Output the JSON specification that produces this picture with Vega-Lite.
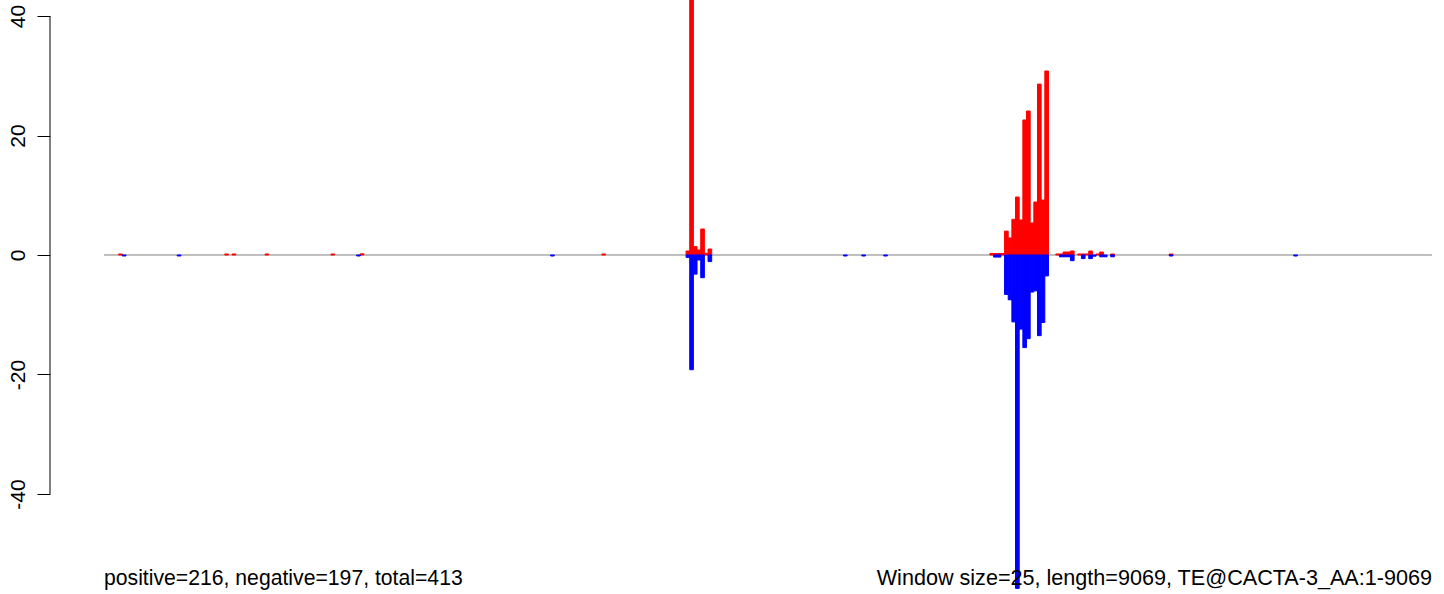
{
  "$schema": "https://vega.github.io/schema/vega-lite/v6.json",
  "width": 1394,
  "height": 594,
  "padding": {"left": 50, "top": 0, "right": 0, "bottom": 0},
  "autosize": {"type": "none"},
  "background": "white",
  "config": {"view": {"stroke": null}, "font": "Liberation Sans"},
  "datasets": {
    "bins": [
      {"start": 100, "end": 125, "strand": "positive", "value": 0.17},
      {"start": 825, "end": 850, "strand": "positive", "value": 0.17},
      {"start": 875, "end": 900, "strand": "positive", "value": 0.17},
      {"start": 1100, "end": 1125, "strand": "positive", "value": 0.17},
      {"start": 1550, "end": 1575, "strand": "positive", "value": 0.17},
      {"start": 1750, "end": 1775, "strand": "positive", "value": 0.2},
      {"start": 3400, "end": 3425, "strand": "positive", "value": 0.17},
      {"start": 3975, "end": 4000, "strand": "positive", "value": 0.67},
      {"start": 4000, "end": 4025, "strand": "positive", "value": 44},
      {"start": 4025, "end": 4050, "strand": "positive", "value": 1.4},
      {"start": 4050, "end": 4075, "strand": "positive", "value": 0.84},
      {"start": 4075, "end": 4100, "strand": "positive", "value": 4.35},
      {"start": 4100, "end": 4125, "strand": "positive", "value": 0.28},
      {"start": 4125, "end": 4150, "strand": "positive", "value": 1.0},
      {"start": 6050, "end": 6075, "strand": "positive", "value": 0.25},
      {"start": 6075, "end": 6100, "strand": "positive", "value": 0.25},
      {"start": 6100, "end": 6125, "strand": "positive", "value": 0.25},
      {"start": 6125, "end": 6150, "strand": "positive", "value": 0.25},
      {"start": 6150, "end": 6175, "strand": "positive", "value": 4.0},
      {"start": 6175, "end": 6200, "strand": "positive", "value": 2.85},
      {"start": 6200, "end": 6225, "strand": "positive", "value": 5.97},
      {"start": 6225, "end": 6250, "strand": "positive", "value": 9.7},
      {"start": 6250, "end": 6275, "strand": "positive", "value": 5.86},
      {"start": 6275, "end": 6300, "strand": "positive", "value": 22.6},
      {"start": 6300, "end": 6325, "strand": "positive", "value": 24.1},
      {"start": 6325, "end": 6350, "strand": "positive", "value": 5.36},
      {"start": 6350, "end": 6375, "strand": "positive", "value": 8.87},
      {"start": 6375, "end": 6400, "strand": "positive", "value": 28.6},
      {"start": 6400, "end": 6425, "strand": "positive", "value": 9.2},
      {"start": 6425, "end": 6450, "strand": "positive", "value": 30.8},
      {"start": 6500, "end": 6525, "strand": "positive", "value": 0.17},
      {"start": 6525, "end": 6550, "strand": "positive", "value": 0.17},
      {"start": 6550, "end": 6575, "strand": "positive", "value": 0.5},
      {"start": 6575, "end": 6600, "strand": "positive", "value": 0.5},
      {"start": 6600, "end": 6625, "strand": "positive", "value": 0.67},
      {"start": 6650, "end": 6675, "strand": "positive", "value": 0.17},
      {"start": 6675, "end": 6700, "strand": "positive", "value": 0.17},
      {"start": 6700, "end": 6725, "strand": "positive", "value": 0.17},
      {"start": 6725, "end": 6750, "strand": "positive", "value": 0.67},
      {"start": 6775, "end": 6800, "strand": "positive", "value": 0.17},
      {"start": 6800, "end": 6825, "strand": "positive", "value": 0.5},
      {"start": 6875, "end": 6900, "strand": "positive", "value": 0.17},
      {"start": 7275, "end": 7300, "strand": "positive", "value": 0.17},
      {"start": 125, "end": 150, "strand": "negative", "value": -0.17},
      {"start": 500, "end": 525, "strand": "negative", "value": -0.17},
      {"start": 1725, "end": 1750, "strand": "negative", "value": -0.17},
      {"start": 3050, "end": 3075, "strand": "negative", "value": -0.17},
      {"start": 3975, "end": 4000, "strand": "negative", "value": -0.4},
      {"start": 4000, "end": 4025, "strand": "negative", "value": -19.2},
      {"start": 4025, "end": 4050, "strand": "negative", "value": -3.2},
      {"start": 4050, "end": 4075, "strand": "negative", "value": -0.84},
      {"start": 4075, "end": 4100, "strand": "negative", "value": -3.8},
      {"start": 4125, "end": 4150, "strand": "negative", "value": -1.1},
      {"start": 5050, "end": 5075, "strand": "negative", "value": -0.17},
      {"start": 5175, "end": 5200, "strand": "negative", "value": -0.17},
      {"start": 5325, "end": 5350, "strand": "negative", "value": -0.17},
      {"start": 6075, "end": 6100, "strand": "negative", "value": -0.35},
      {"start": 6100, "end": 6125, "strand": "negative", "value": -0.35},
      {"start": 6150, "end": 6175, "strand": "negative", "value": -6.6},
      {"start": 6175, "end": 6200, "strand": "negative", "value": -7.5},
      {"start": 6200, "end": 6225, "strand": "negative", "value": -11.2},
      {"start": 6225, "end": 6250, "strand": "negative", "value": -55.8},
      {"start": 6250, "end": 6275, "strand": "negative", "value": -12.4},
      {"start": 6275, "end": 6300, "strand": "negative", "value": -15.5},
      {"start": 6300, "end": 6325, "strand": "negative", "value": -14.0},
      {"start": 6325, "end": 6350, "strand": "negative", "value": -6.2},
      {"start": 6350, "end": 6375, "strand": "negative", "value": -6.0},
      {"start": 6375, "end": 6400, "strand": "negative", "value": -13.5},
      {"start": 6400, "end": 6425, "strand": "negative", "value": -11.3},
      {"start": 6425, "end": 6450, "strand": "negative", "value": -3.5},
      {"start": 6525, "end": 6550, "strand": "negative", "value": -0.3},
      {"start": 6550, "end": 6575, "strand": "negative", "value": -0.3},
      {"start": 6575, "end": 6600, "strand": "negative", "value": -0.3},
      {"start": 6600, "end": 6625, "strand": "negative", "value": -0.95},
      {"start": 6675, "end": 6700, "strand": "negative", "value": -0.6},
      {"start": 6725, "end": 6750, "strand": "negative", "value": -0.6},
      {"start": 6750, "end": 6775, "strand": "negative", "value": -0.2},
      {"start": 6800, "end": 6825, "strand": "negative", "value": -0.3},
      {"start": 6825, "end": 6850, "strand": "negative", "value": -0.3},
      {"start": 6875, "end": 6900, "strand": "negative", "value": -0.3},
      {"start": 7275, "end": 7300, "strand": "negative", "value": -0.17},
      {"start": 8125, "end": 8150, "strand": "negative", "value": -0.17}
    ]
  },
  "layer": [
    {
      "data": {"values": [{}]},
      "mark": {"type": "rule", "color": "#7f7f7f", "strokeWidth": 1},
      "encoding": {
        "x": {"datum": 0, "type": "quantitative", "scale": {"domain": [-368.8, 9151.1], "nice": false, "zero": false}, "axis": null},
        "x2": {"datum": 9069},
        "y": {"datum": 0, "type": "quantitative"}
      }
    },
    {
      "data": {"name": "bins"},
      "mark": {"type": "bar", "clip": true, "strokeWidth": 1},
      "encoding": {
        "x": {"field": "start", "type": "quantitative"},
        "x2": {"field": "end"},
        "y": {
          "field": "value", "type": "quantitative", "stack": null,
          "scale": {"domain": [-56.74, 42.68], "nice": false},
          "axis": {
            "values": [-40, -20, 0, 20, 40],
            "domain": false, "grid": false, "title": null,
            "tickSize": 13, "tickColor": "black", "tickWidth": 1,
            "labelAngle": -90, "labelFontSize": 21, "labelColor": "black",
            "labelPadding": 9, "labelFont": "Liberation Sans",
            "labelExpr": "replace(datum.label, '−', '-')"
          }
        },
        "y2": {"datum": 0},
        "color": {
          "field": "strand", "type": "nominal",
          "scale": {"domain": ["positive", "negative"], "range": ["#ff0000", "#0000ff"]},
          "legend": null
        },
        "stroke": {
          "field": "strand", "type": "nominal",
          "scale": {"domain": ["positive", "negative"], "range": ["#ff0000", "#0000ff"]},
          "legend": null
        }
      }
    },
    {
      "data": {"values": [{}]},
      "mark": {"type": "rule", "color": "black", "strokeWidth": 1},
      "encoding": {
        "x": {"datum": -368.8, "type": "quantitative"},
        "y": {"datum": -40, "type": "quantitative"},
        "y2": {"datum": 40}
      }
    },
    {
      "data": {"values": [{"label": "positive=216, negative=197, total=413"}]},
      "mark": {"type": "text", "align": "left", "baseline": "alphabetic", "fontSize": 21.2, "color": "black"},
      "encoding": {
        "x": {"datum": 0, "type": "quantitative"},
        "y": {"datum": -55.2, "type": "quantitative"},
        "text": {"field": "label"}
      }
    },
    {
      "data": {"values": [{"label": "Window size=25, length=9069, TE@CACTA-3_AA:1-9069"}]},
      "mark": {"type": "text", "align": "right", "baseline": "alphabetic", "fontSize": 21.6, "color": "black"},
      "encoding": {
        "x": {"datum": 9069, "type": "quantitative"},
        "y": {"datum": -55.2, "type": "quantitative"},
        "text": {"field": "label"}
      }
    }
  ]
}
